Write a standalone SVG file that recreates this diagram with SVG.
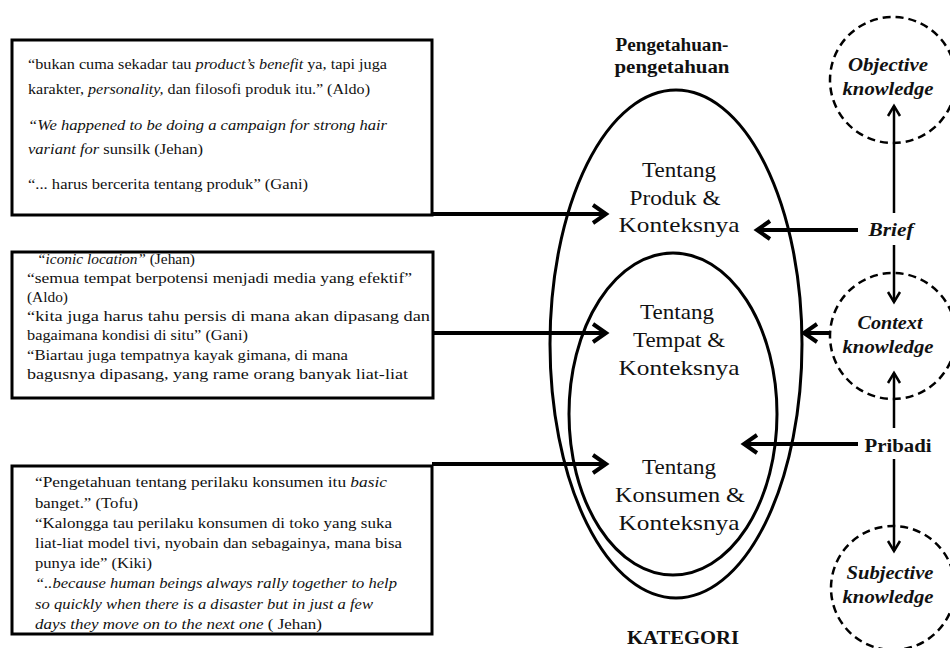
<svg xmlns="http://www.w3.org/2000/svg" width="950" height="648" viewBox="0 0 950 648" font-family="'Liberation Serif', 'Times New Roman', serif">
<style>
text{font-family:'Liberation Serif','Times New Roman',serif;fill:#111}
.q{font-size:15px}
.q2{font-size:15px}
.it{font-style:italic}
.box{fill:#fff;stroke:#000;stroke-width:3}
.ell{fill:none;stroke:#000;stroke-width:3}
.lbl{font-size:22px;text-anchor:middle}
.ttl{font-size:18px;font-weight:bold;text-anchor:middle}
.kn{font-size:18px;font-weight:bold;font-style:italic;text-anchor:middle}
.dash{fill:none;stroke:#000;stroke-width:2.5;stroke-dasharray:8 5}
.thick{fill:none;stroke:#000;stroke-width:4}
.thin{fill:none;stroke:#000;stroke-width:2.5}
</style>
<defs>
<marker id="hT" markerUnits="userSpaceOnUse" markerWidth="20" markerHeight="20" refX="14" refY="9" orient="auto" overflow="visible">
<path d="M1,0 L14,9 L1,18" fill="none" stroke="#000" stroke-width="4"/>
</marker>
<marker id="hS" markerUnits="userSpaceOnUse" markerWidth="16" markerHeight="16" refX="11" refY="7" orient="auto" overflow="visible">
<path d="M1,1 L11,7 L1,13" fill="none" stroke="#000" stroke-width="2.5"/>
</marker>
</defs>

<g id="box-produk">
<rect class="box" x="12" y="40" width="420" height="175"/>
<text class="q" x="28" y="69" textLength="359" lengthAdjust="spacingAndGlyphs">“bukan cuma sekadar tau <tspan class="it">product’s benefit</tspan> ya, tapi juga</text>
<text class="q" x="28" y="94" textLength="342" lengthAdjust="spacingAndGlyphs">karakter, <tspan class="it">personality,</tspan> dan filosofi produk itu.” (Aldo)</text>
<text class="q it" x="28" y="130" textLength="359" lengthAdjust="spacingAndGlyphs">“We happened to be doing a campaign for strong hair</text>
<text class="q" x="28" y="154" textLength="175" lengthAdjust="spacingAndGlyphs"><tspan class="it">variant for</tspan> sunsilk (Jehan)</text>
<text class="q" x="28" y="189" textLength="280" lengthAdjust="spacingAndGlyphs">“... harus bercerita tentang produk” (Gani)</text>
</g>

<g id="box-tempat">
<rect class="box" x="12" y="252" width="421" height="146"/>
<text class="q2" x="37" y="264" textLength="158" lengthAdjust="spacingAndGlyphs"><tspan class="it">“iconic location”</tspan> (Jehan)</text>
<text class="q2" x="27" y="283" textLength="385" lengthAdjust="spacingAndGlyphs">“semua tempat berpotensi menjadi media yang efektif”</text>
<text class="q2" x="27" y="302" textLength="41" lengthAdjust="spacingAndGlyphs">(Aldo)</text>
<text class="q2" x="27" y="321" textLength="403" lengthAdjust="spacingAndGlyphs">“kita juga harus  tahu persis  di mana akan  dipasang  dan</text>
<text class="q2" x="27" y="340" textLength="221" lengthAdjust="spacingAndGlyphs">bagaimana  kondisi di situ” (Gani)</text>
<text class="q2" x="27" y="360" textLength="321" lengthAdjust="spacingAndGlyphs">“Biartau  juga tempatnya  kayak gimana, di mana</text>
<text class="q2" x="27" y="379" textLength="381" lengthAdjust="spacingAndGlyphs">bagusnya dipasang, yang rame orang banyak liat-liat</text>
</g>

<g id="box-konsumen">
<rect class="box" x="12" y="466" width="420" height="168"/>
<text class="q2" x="35" y="487" textLength="352" lengthAdjust="spacingAndGlyphs">“Pengetahuan   tentang  perilaku konsumen itu <tspan class="it">basic</tspan></text>
<text class="q2" x="35" y="508" textLength="103" lengthAdjust="spacingAndGlyphs">banget.” (Tofu)</text>
<text class="q2" x="35" y="528" textLength="357" lengthAdjust="spacingAndGlyphs">“Kalongga tau perilaku konsumen  di toko yang suka</text>
<text class="q2" x="35" y="548" textLength="367" lengthAdjust="spacingAndGlyphs">liat-liat model tivi, nyobain dan  sebagainya, mana bisa</text>
<text class="q2" x="35" y="568" textLength="117" lengthAdjust="spacingAndGlyphs">punya ide” (Kiki)</text>
<text class="q2 it" x="35" y="588" textLength="362" lengthAdjust="spacingAndGlyphs">“..because human beings always rally together to help</text>
<text class="q2 it" x="35" y="609" textLength="338" lengthAdjust="spacingAndGlyphs">so quickly when there is a disaster but in just a few</text>
<text class="q2" x="35" y="629" textLength="287" lengthAdjust="spacingAndGlyphs"><tspan class="it">days they move on to the next one</tspan> (  Jehan)</text>
</g>

<g id="kategori">
<text class="ttl" x="672" y="51" textLength="113" lengthAdjust="spacingAndGlyphs">Pengetahuan-</text>
<text class="ttl" x="672" y="73" textLength="115" lengthAdjust="spacingAndGlyphs">pengetahuan</text>
<ellipse class="ell" cx="676" cy="344" rx="126" ry="254"/>
<ellipse class="ell" cx="673" cy="414" rx="104" ry="161"/>
<text class="ttl" x="683" y="644" textLength="112" lengthAdjust="spacingAndGlyphs">KATEGORI</text>
</g>

<g id="produk">
<text class="lbl" x="679" y="177" textLength="74" lengthAdjust="spacingAndGlyphs">Tentang</text>
<text class="lbl" x="675" y="205" textLength="91" lengthAdjust="spacingAndGlyphs">Produk &amp;</text>
<text class="lbl" x="679" y="232" textLength="121" lengthAdjust="spacingAndGlyphs">Konteksnya</text>
</g>
<g id="tempat">
<text class="lbl" x="677" y="319" textLength="74" lengthAdjust="spacingAndGlyphs">Tentang</text>
<text class="lbl" x="679" y="347" textLength="92" lengthAdjust="spacingAndGlyphs">Tempat &amp;</text>
<text class="lbl" x="679" y="375" textLength="121" lengthAdjust="spacingAndGlyphs">Konteksnya</text>
</g>
<g id="konsumen">
<text class="lbl" x="679" y="474" textLength="74" lengthAdjust="spacingAndGlyphs">Tentang</text>
<text class="lbl" x="680" y="502" textLength="130" lengthAdjust="spacingAndGlyphs">Konsumen &amp;</text>
<text class="lbl" x="679" y="530" textLength="121" lengthAdjust="spacingAndGlyphs">Konteksnya</text>
</g>

<g id="objective">
<circle class="dash" cx="893" cy="80" r="63"/>
<text class="kn" x="888" y="71" textLength="80" lengthAdjust="spacingAndGlyphs">Objective</text>
<text class="kn" x="888" y="95" textLength="91" lengthAdjust="spacingAndGlyphs">knowledge</text>
</g>
<g id="context">
<circle class="dash" cx="893" cy="336" r="63"/>
<text class="kn" x="890" y="329" textLength="65" lengthAdjust="spacingAndGlyphs">Context</text>
<text class="kn" x="888" y="353" textLength="91" lengthAdjust="spacingAndGlyphs">knowledge</text>
</g>
<g id="subjective">
<circle class="dash" cx="893" cy="588" r="62"/>
<text class="kn" x="890" y="579" textLength="87" lengthAdjust="spacingAndGlyphs">Subjective</text>
<text class="kn" x="888" y="603" textLength="91" lengthAdjust="spacingAndGlyphs">knowledge</text>
</g>
<g id="brief">
<text class="kn" x="891" y="236" textLength="45" lengthAdjust="spacingAndGlyphs">Brief</text>
</g>
<g id="pribadi">
<text class="ttl" x="898" y="452" textLength="67" lengthAdjust="spacingAndGlyphs">Pribadi</text>
</g>

<g id="connectors">
<path class="thick" d="M432,214 H606" marker-end="url(#hT)"/>
<path class="thick" d="M433,333 H606" marker-end="url(#hT)"/>
<path class="thick" d="M432,464 H606" marker-end="url(#hT)"/>
<path class="thick" d="M858,230 H757" marker-end="url(#hT)"/>
<path class="thick" d="M829,333 H804" marker-end="url(#hT)"/>
<path class="thick" d="M858,444 H744" marker-end="url(#hT)"/>
<path class="thin" d="M894,213 V106" marker-end="url(#hS)"/>
<path class="thin" d="M894,245 V302" marker-end="url(#hS)"/>
<path class="thin" d="M894,428 V373" marker-end="url(#hS)"/>
<path class="thin" d="M894,459 V551" marker-end="url(#hS)"/>
</g>
</svg>
